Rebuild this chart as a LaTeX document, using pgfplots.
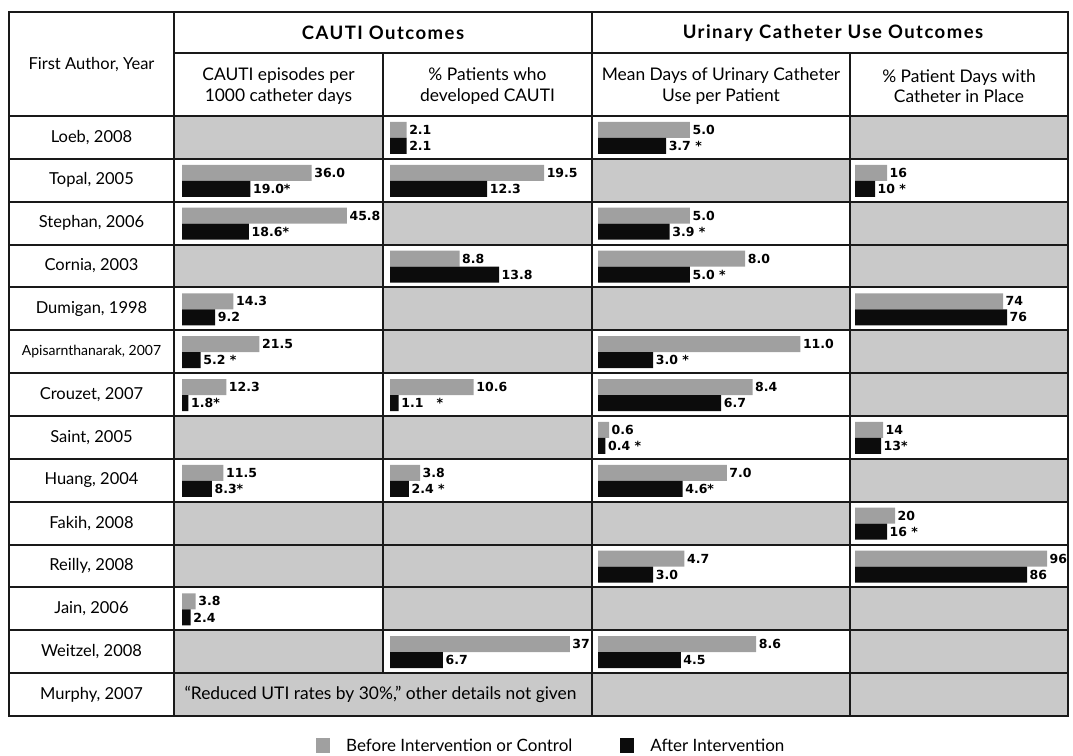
\documentclass[border=0pt]{standalone}
\usepackage{fontspec}
\setmainfont{Lato}
\newfontfamily\numfont{DejaVu Sans}
\newfontfamily\headfont{Lato}[LetterSpace=8]
\usepackage{pgfplots}
\pgfplotsset{compat=1.18}
\definecolor{cellgrey}{RGB}{201,201,201}
\definecolor{bargrey}{RGB}{160,160,160}
\definecolor{barblack}{RGB}{12,12,12}
\definecolor{rulecol}{RGB}{25,25,25}
\newcommand{\numf}{\fontsize{12.5}{14}\numfont\bfseries}
\newcommand{\txtf}{\fontsize{16.5}{20}\selectfont}
\newcommand{\subf}{\fontsize{17.4}{20.5}\selectfont}
\newcommand{\hdf}{\fontsize{18.5}{22}\headfont\bfseries}
\pgfplotsset{
  col/.style={
    xbar, bar width=16pt, hide axis, scale only axis,
    height=600pt, ymin=-0.5, ymax=13.5, y dir=reverse,
    anchor=north west,
    nodes near coords, point meta=explicit symbolic,
    every node near coord/.append style={anchor=west, font=\numf, inner sep=2.5pt},
  },
  before/.style={fill=bargrey, draw=none, bar shift=7.5pt},
  after/.style={fill=barblack, draw=none, bar shift=-8.5pt},
}
\begin{document}
\begin{tikzpicture}[x=1pt,y=1pt]
\useasboundingbox (0,0) rectangle (1073,-755);
% grey (empty) cells
\foreach \xa/\xb/\r in {174/383/0,174/383/3,174/383/7,174/383/9,174/383/10,174/383/12,
  383/592/2,383/592/4,383/592/5,383/592/7,383/592/9,383/592/10,383/592/11,
  592/850/1,592/850/4,592/850/9,592/850/11,592/850/13,
  850/1068/0,850/1068/2,850/1068/3,850/1068/5,850/1068/6,850/1068/8,850/1068/11,850/1068/12,850/1068/13,
  174/592/13}
  \fill[cellgrey] (\xa,{-(116+42.857*\r)}) rectangle (\xb,{-(116+42.857*(\r+1))});

% Column 1: CAUTI episodes per 1000 catheter days
\begin{axis}[col, at={(174pt,-116pt)}, width=209pt, xmin=-2.222, xmax=55.83,
  legend columns=2,
  legend image code/.code={\fill[#1] (0pt,-7pt) rectangle (14pt,8pt);},
  legend style={draw=none, fill=none, font=\fontsize{17}{19}\selectfont,
    at={(axis description cs:0.665,-0.05)}, anchor=west,
    /tikz/every odd column/.append style={column sep=14pt},
    /tikz/every even column/.append style={column sep=46pt}}]
\addplot[before] coordinates {(36.0,1) [36.0] (45.8,2) [45.8] (14.3,4) [14.3] (21.5,5) [21.5] (12.3,6) [12.3] (11.5,8) [11.5] (3.8,11) [3.8]};
\addlegendentry{Before Intervention or Control}
\addplot[after] coordinates {(19.0,1) [19.0*] (18.6,2) [18.6*] (9.2,4) [9.2] (5.2,5) [5.2 *] (1.8,6) [1.8*] (8.3,8) [8.3*] (2.4,11) [2.4]};
\addlegendentry{After Intervention}
\end{axis}

% Column 2: % patients who developed CAUTI
\begin{axis}[col, at={(383pt,-116pt)}, width=209pt, xmin=-0.886, xmax=25.57]
\addplot[before] coordinates {(2.1,0) [2.1] (19.5,1) [19.5] (8.8,3) [8.8] (10.6,6) [10.6] (3.8,8) [3.8] (37,12) [{}]};
\addplot[after] coordinates {(2.1,0) [2.1] (12.3,1) [12.3] (13.8,3) [13.8] (1.1,6) [{1.1\ \ \ *}] (2.4,8) [2.4 *] (6.7,12) [6.7]};
\node[anchor=east, fill=white, inner sep=2pt, minimum height=17pt, font=\numf, yshift=7.5pt] at (axis cs:25.57,12) {37};
\end{axis}

% Column 3: mean days of urinary catheter use per patient
\begin{axis}[col, at={(592pt,-116pt)}, width=258pt, xmin=-0.326, xmax=13.70]
\addplot[before] coordinates {(5.0,0) [5.0] (5.0,2) [5.0] (8.0,3) [8.0] (11.0,5) [11.0] (8.4,6) [8.4] (0.6,7) [0.6] (7.0,8) [7.0] (4.7,10) [4.7] (8.6,12) [8.6]};
\addplot[after] coordinates {(3.7,0) [3.7 *] (3.9,2) [3.9 *] (5.0,3) [5.0 *] (3.0,5) [3.0 *] (6.7,6) [6.7] (0.4,7) [0.4 *] (4.6,8) [4.6*] (3.0,10) [3.0] (4.5,12) [4.5]};
\end{axis}

% Column 4: % patient days with catheter in place
\begin{axis}[col, at={(850pt,-116pt)}, width=218pt, xmin=-2.5, xmax=106.5]
\addplot[before] coordinates {(16,1) [16] (74,4) [74] (14,7) [14] (20,9) [20] (96,10) [96]};
\addplot[after] coordinates {(10,1) [10 *] (76,4) [76] (13,7) [13*] (16,9) [16 *] (86,10) [86]};
\end{axis}

% header text
\node[font=\txtf] at (91.5,-65) {First Author, Year};
\node[font=\hdf] at (383,-33) {CAUTI Outcomes};
\node[font=\hdf] at (833,-33) {Urinary Catheter Use Outcomes};
\node[font=\subf, align=center] at (278.5,-86) {CAUTI episodes per\\1000 catheter days};
\node[font=\subf, align=center] at (487.5,-86) {\% Patients who\\developed CAUTI};
\node[font=\subf, align=center] at (721,-86) {Mean Days of Urinary Catheter\\Use per Patient};
\node[font=\subf, align=center] at (959,-86) {\% Patient Days with\\Catheter in Place};

% row labels
\foreach \r/\t in {0/{Loeb, 2008},1/{Topal, 2005},2/{Stephan, 2006},3/{Cornia, 2003},4/{Dumigan, 1998},
  6/{Crouzet, 2007},7/{Saint, 2005},8/{Huang, 2004},9/{Fakih, 2008},10/{Reilly, 2008},11/{Jain, 2006},12/{Weitzel, 2008},13/{Murphy, 2007}}
  \node[font=\txtf] at (91.5,{-(116+42.857*(\r+0.5))}) {\t};
\node[font=\fontsize{14}{16}\selectfont] at (91.5,{-(116+42.857*5.5)}) {Apisarnthanarak, 2007};
\node[font=\subf, anchor=west] at (181,{-(116+42.857*13.5)}) {“Reduced UTI rates by 30\%,” other details not given};

% rules
\begin{scope}[line width=2pt, rulecol]
\draw (9,-12) rectangle (1068,-716);
\draw (174,-53) -- (1068,-53);
\foreach \k in {0,...,13} \draw (9,{-(116+42.857*\k)}) -- (1068,{-(116+42.857*\k)});
\draw (174,-12) -- (174,-716);
\draw (592,-12) -- (592,-716);
\draw (383,-53) -- (383,{-(116+42.857*13)});
\draw (850,-53) -- (850,-716);
\end{scope}
\end{tikzpicture}
\end{document}
